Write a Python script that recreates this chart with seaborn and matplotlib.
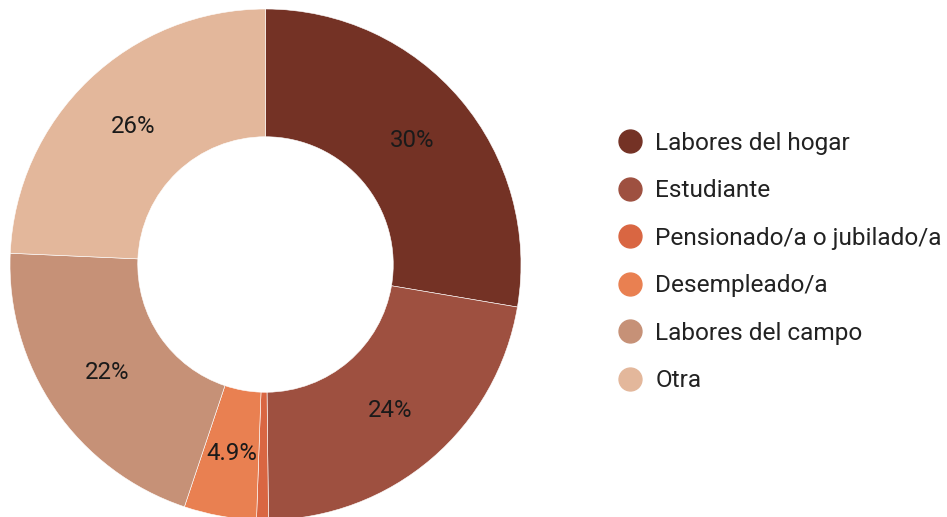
import matplotlib
matplotlib.use('Agg')
import matplotlib.pyplot as plt
import seaborn as sns
import numpy as np
from matplotlib.lines import Line2D

# Data (multi-response shares, %; the ring is normalised on the total)
categories = ['Labores del hogar', 'Estudiante', 'Pensionado/a o jubilado/a',
              'Desempleado/a', 'Labores del campo', 'Otra']
values = [29.6, 23.7, 0.8, 4.9, 22.0, 26.0]

COLORS = ['#743225', '#9E5040', '#D96642', '#E98051', '#C69177', '#E3B79B']

sns.set_theme(style='white')
plt.rcParams['font.family'] = ['Roboto', 'DejaVu Sans']

fig = plt.figure(figsize=(9.47, 5.17), dpi=100)
ax = fig.add_axes([10 / 947, -3 / 517, 511 / 947, 511 / 517])

ax.pie(values, colors=sns.color_palette(COLORS), startangle=90,
       counterclock=False, radius=1.0,
       wedgeprops=dict(width=0.5, edgecolor='white', linewidth=0.4))

# Percentage labels in the middle of the ring (small slices unlabelled)
total = sum(values)
start = 90.0
for v in values:
    span = v / total * 360
    mid = np.deg2rad(start - span / 2)
    start -= span
    if v >= 1:
        ax.text(0.75 * np.cos(mid), 0.75 * np.sin(mid), f'{v:.2g}%',
                ha='center', va='center', fontsize=17.3, color='#1a1a1a')

ax.set_xlim(-1, 1)
ax.set_ylim(-1, 1)
ax.set_aspect('equal')
ax.axis('off')

handles = [Line2D([0], [0], marker='o', linestyle='', markersize=16.5,
                  markerfacecolor=c, markeredgecolor=c) for c in COLORS]
fig.legend(handles, categories, loc='center left',
           bbox_to_anchor=(618 / 947, 0.493), frameon=False, fontsize=17.6,
           handlelength=1.0, handletextpad=0.53, labelspacing=1.0,
           borderpad=0, borderaxespad=0, labelcolor='#222222')

plt.savefig('out.png', dpi=100)
plt.close()
